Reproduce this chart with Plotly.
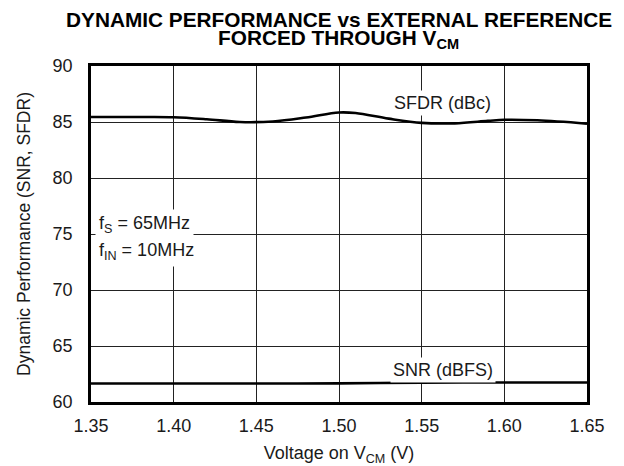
import plotly.graph_objects as go

# Data
sfdr_x = [1.35, 1.38, 1.40, 1.42, 1.44, 1.46, 1.48, 1.50, 1.51, 1.53, 1.55, 1.57, 1.59, 1.60, 1.62, 1.65]
sfdr_y = [85.45, 85.45, 85.43, 85.25, 85.0, 85.05, 85.4, 85.85, 85.8, 85.3, 84.92, 84.88, 85.1, 85.2, 85.15, 84.85]
snr_x = [1.35, 1.40, 1.45, 1.50, 1.55, 1.60, 1.65]
snr_y = [61.65, 61.65, 61.65, 61.66, 61.73, 61.74, 61.74]
x_ticks = [1.35, 1.40, 1.45, 1.50, 1.55, 1.60, 1.65]
x_tick_labels = ["1.35", "1.40", "1.45", "1.50", "1.55", "1.60", "1.65"]
y_ticks = [60, 65, 70, 75, 80, 85, 90]

FONT = "Liberation Sans, Arial, Helvetica, sans-serif"
TXT = "#1a1a1a"

fig = go.Figure()
fig.add_trace(go.Scatter(x=sfdr_x, y=sfdr_y, mode="lines", line=dict(color="black", width=2.6, shape="spline"), showlegend=False))
fig.add_trace(go.Scatter(x=snr_x, y=snr_y, mode="lines", line=dict(color="black", width=2.6, shape="spline"), showlegend=False))

fig.update_layout(
    width=616, height=458,
    margin=dict(l=83, r=37, t=58, b=64, autoexpand=False),
    paper_bgcolor="white", plot_bgcolor="white",
    font=dict(family=FONT, size=18, color=TXT),
    xaxis=dict(
        range=[1.35, 1.65], tickvals=x_ticks, ticktext=x_tick_labels,
        showgrid=True, gridcolor="#222", gridwidth=1,
        showline=True, linecolor="black", linewidth=2.5, mirror=True,
        ticks="", zeroline=False, ticklabelstandoff=6, automargin=False,
        title=dict(text="Voltage on V<sub>CM</sub> (V)", font=dict(size=18), standoff=12),
        tickfont=dict(size=18),
    ),
    yaxis=dict(
        range=[60, 90], tickvals=y_ticks,
        showgrid=True, gridcolor="#222", gridwidth=1,
        showline=True, linecolor="black", linewidth=2.5, mirror=True,
        ticks="", zeroline=False, ticklabelstandoff=12, automargin=False,
        title=dict(text="Dynamic Performance (SNR, SFDR)", font=dict(size=17.5), standoff=18),
        tickfont=dict(size=18),
    ),
    annotations=[
        dict(x=0.499, y=1.138, xref="paper", yref="paper", xanchor="center", yanchor="middle",
             text="<b>DYNAMIC PERFORMANCE vs EXTERNAL REFERENCE</b>", showarrow=False,
             font=dict(size=20.8, color="black")),
        dict(x=0.499, y=1.080, xref="paper", yref="paper", xanchor="center", yanchor="middle",
             text="<b>FORCED THROUGH V<sub>CM</sub></b>", showarrow=False,
             font=dict(size=20.8, color="black")),
        dict(x=1.5626, y=86.7, xref="x", yref="y", text="SFDR (dBc)", showarrow=False,
             yanchor="middle", bgcolor="white", borderpad=2, font=dict(size=18, color=TXT)),
        dict(x=1.5626, y=62.9, xref="x", yref="y", text="SNR (dBFS)", showarrow=False,
             yanchor="middle", bgcolor="white", borderpad=2, font=dict(size=18, color=TXT)),
        dict(x=0.008, y=75.85, xref="paper", yref="y", xanchor="left", yanchor="middle",
             text="f<sub>S</sub> = 65MHz", showarrow=False, align="left",
             bgcolor="white", borderpad=3, font=dict(size=18, color=TXT)),
        dict(x=0.008, y=73.45, xref="paper", yref="y", xanchor="left", yanchor="middle",
             text="f<sub>IN</sub> = 10MHz", showarrow=False, align="left",
             bgcolor="white", borderpad=3, font=dict(size=18, color=TXT)),
    ],
)

fig.write_html("out.html")
